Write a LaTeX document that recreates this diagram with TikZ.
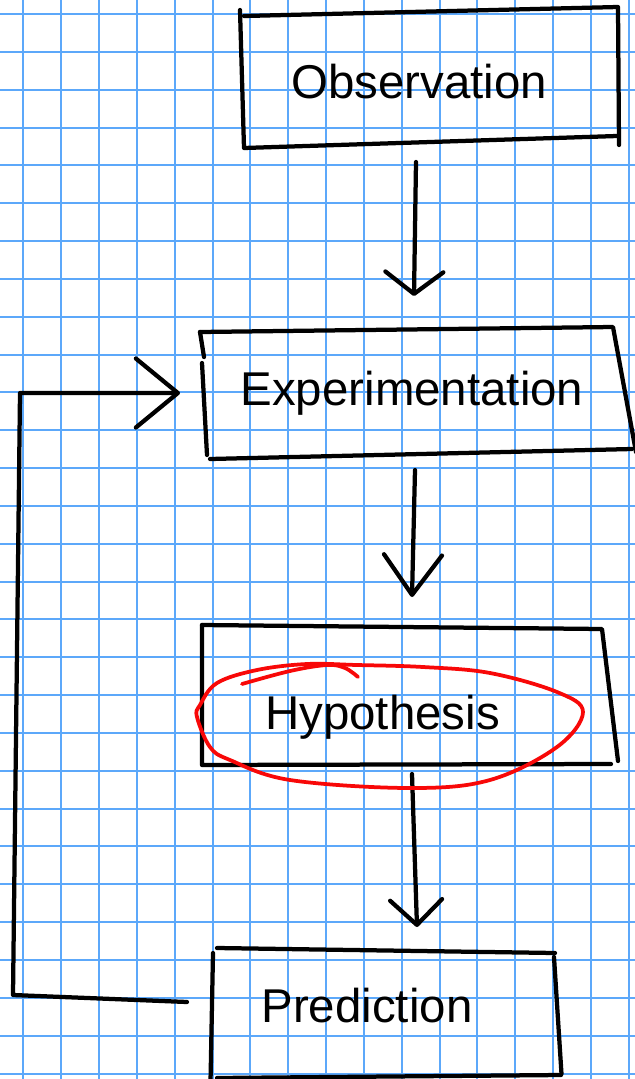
\documentclass[tikz,border=0pt]{standalone}
\usepackage{fontspec}
\setmainfont{Liberation Sans}
\usetikzlibrary{arrows.meta}
\definecolor{gridblue}{RGB}{92,168,250}
\definecolor{inkred}{RGB}{248,8,8}
\tikzset{
  paper/.style={line width=0.04cm,gridblue},
  pen/.style={line width=0.085cm,black,line cap=round,line join=round},
  redpen/.style={line width=0.075cm,inkred,line cap=round,line join=round},
  vhead/.style 2 args={-{Straight Barb[length=#1,width=#2,round]}},
  boxtext/.style={font=\fontsize{27}{32}\selectfont,inner sep=0pt,anchor=base}
}

\begin{document}
\begin{tikzpicture}[x=0.02cm,y=-0.02cm]
  \fill[white] (0,0) rectangle (635,1079);
  \useasboundingbox (0,0) rectangle (635,1079);
  % squared paper
  \begin{scope}
    \clip (0,0) rectangle (635,1079);
    \foreach \k in {0,...,16}
      \draw[paper] ({23.3+37.84*\k},0) -- ({23.3+37.84*\k},1079);
    \foreach \k in {0,...,28}
      \draw[paper] (0,{14+37.84*\k}) -- (635,{14+37.84*\k});
  \end{scope}

  \node[boxtext] (obs) at (419,98) {Observation};
  \node[boxtext] (exp) at (412,405) {Experimentation};
  \node[boxtext] (hyp) at (382.5,729) {Hypothesis};
  \node[boxtext] (pred) at (367,1022) {Prediction};

  % hand drawn frames
  \begin{scope}
    \clip (0,0) rectangle (635,1079);
    \draw[pen] (240,10) -- (244,148) -- (617,136);
    \draw[pen] (244,16) -- (618,7) -- (619,145);
    \draw[pen] (200,332) -- (204,357);
    \draw[pen] (202,363) -- (207,455);
    \draw[pen] (200,332) -- (613,327) -- (636,452);
    \draw[pen] (210,459) -- (632,449);
    \draw[pen] (202,625) -- (602,629) -- (618,761);
    \draw[pen] (202,625) -- (202,765) -- (611,764);
    \draw[pen] (217,948) -- (555,953);
    \draw[pen] (213,953) -- (210.5,1082);
    \draw[pen] (554,957) -- (561.5,1074);
    \draw[pen] (217,1078) -- (561,1075);
  \end{scope}

  % flow
  \draw[pen,vhead={0.44cm}{1.16cm}] ([shift={(-3,64)}]obs.base)
    -- ([shift={(2,-109)}]exp.base);
  \draw[pen,vhead={0.8cm}{1.16cm}] ([shift={(3,65)}]exp.base)
    -- ([shift={(29.5,-132)}]hyp.base);
  \draw[pen,vhead={0.5cm}{1.04cm}] ([shift={(29.5,45)}]hyp.base)
    -- ([shift={(50,-95)}]pred.base);

  % back to experimentation
  \coordinate (loopbl) at (13,995);
  \coordinate (looptl) at (20,393);
  \draw[pen,vhead={0.84cm}{1.38cm}] ([shift={(-180,-20)}]pred.base)
    -- (loopbl) -- (looptl) -- ([shift={(-232,-12)}]exp.base);

  % red ring round the hypothesis
  \draw[redpen] plot[smooth cycle,tension=0.6] coordinates {
    (200,705) (217,683) (257,670) (307,664) (357,665) (423,667) (490,673)
    (557,692) (583,712) (557,747) (490,780) (410,788) (290,780) (230,760)
    (210,747) (197,717)};
  \draw[redpen] plot[smooth,tension=0.6] coordinates {
    (242,684) (290,671) (327,665) (345,668) (358,677)};
\end{tikzpicture}
\end{document}
